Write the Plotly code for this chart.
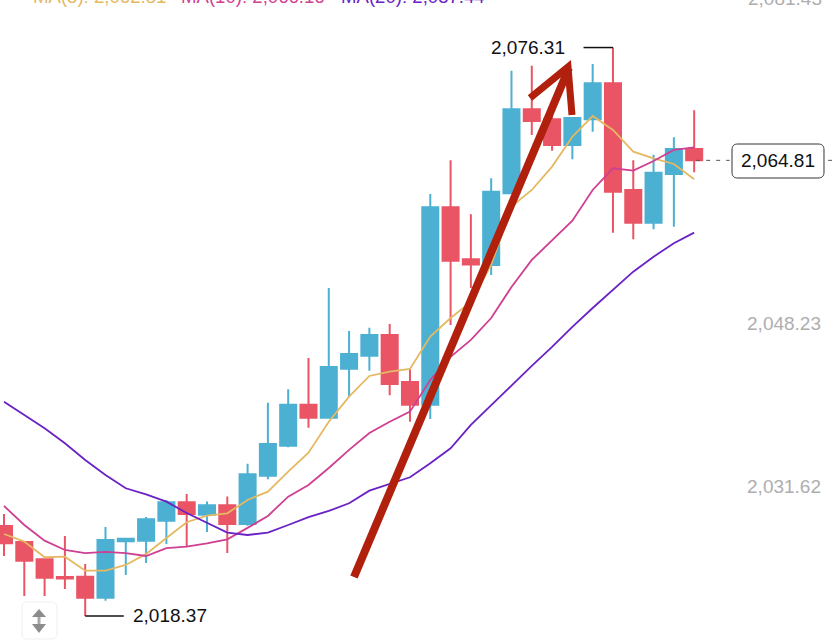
import plotly.graph_objects as go

W, H = 832, 642

# Candle values (price), index 0..34
opens = [2027.54, 2025.91, 2024.14, 2022.34, 2022.37, 2020.23, 2025.98, 2026.04, 2028.08, 2029.95,
         2028.69, 2029.65, 2027.74, 2032.67, 2035.72, 2039.90, 2038.58, 2043.57, 2044.90, 2047.01,
         2042.22, 2039.90, 2060.03, 2054.73, 2054.15, 2061.45, 2070.02, 2069.00, 2066.38, 2069.00,
         2072.67, 2061.79, 2058.46, 2063.42, 2065.97]
closes = [2025.77, 2024.00, 2022.27, 2022.18, 2020.23, 2026.11, 2026.24, 2028.22, 2029.95, 2028.76,
          2029.65, 2027.74, 2032.81, 2035.90, 2039.90, 2038.58, 2043.75, 2045.07, 2047.01, 2042.02,
          2039.90, 2060.03, 2054.58, 2054.18, 2061.62, 2070.02, 2068.83, 2066.38, 2069.13, 2072.67,
          2061.62, 2058.46, 2063.55, 2065.97, 2064.81]
highs = [2028.76, 2025.91, 2024.14, 2026.52, 2023.66, 2027.43, 2026.31, 2028.45, 2030.19, 2030.80,
         2030.02, 2030.53, 2033.89, 2040.11, 2041.47, 2044.67, 2051.80, 2047.42, 2047.75, 2048.13,
         2043.51, 2061.38, 2064.82, 2059.31, 2062.98, 2073.95, 2074.46, 2069.64, 2069.13, 2074.64,
         2076.31, 2064.82, 2065.39, 2067.16, 2069.92]
lows = [2024.48, 2020.40, 2020.40, 2021.12, 2018.37, 2019.92, 2022.54, 2023.76, 2025.70, 2025.43,
        2026.93, 2024.79, 2027.57, 2032.30, 2035.56, 2037.56, 2038.58, 2040.66, 2043.37, 2040.86,
        2038.17, 2038.45, 2048.03, 2051.80, 2053.13, 2061.45, 2067.40, 2065.80, 2064.92, 2067.73,
        2057.44, 2056.76, 2057.78, 2058.05, 2063.59]
ma5 = [2026.72, 2025.94, 2024.35, 2024.41, 2022.98, 2022.98, 2023.56, 2024.69, 2026.32, 2027.92,
       2028.59, 2028.83, 2030.19, 2031.04, 2033.07, 2035.01, 2038.17, 2040.72, 2042.83, 2043.27,
       2043.54, 2046.84, 2048.74, 2050.37, 2054.15, 2060.09, 2061.79, 2064.17, 2067.22, 2069.33,
       2067.91, 2065.70, 2065.02, 2064.44, 2062.88]
ma10 = [2029.58, 2027.64, 2026.04, 2025.09, 2024.76, 2024.89, 2024.76, 2024.48, 2025.27, 2025.43,
        2025.77, 2026.18, 2027.34, 2028.56, 2030.53, 2031.72, 2033.45, 2035.29, 2037.02, 2038.17,
        2039.19, 2042.42, 2044.77, 2046.50, 2048.74, 2051.90, 2054.66, 2056.69, 2058.66, 2061.79,
        2064.00, 2063.76, 2064.75, 2065.87, 2066.14]
ma20 = [2040.21, 2038.85, 2037.50, 2035.97, 2034.27, 2032.74, 2031.38, 2030.75, 2030.02, 2028.86,
        2027.85, 2026.86, 2026.62, 2026.86, 2027.64, 2028.43, 2029.07, 2029.85, 2031.14, 2031.82,
        2032.50, 2033.93, 2035.46, 2037.84, 2039.87, 2041.81, 2043.85, 2045.79, 2047.83, 2049.76,
        2051.60, 2053.46, 2054.99, 2056.36, 2057.44]
index = list(range(len(opens)))

tick_values = [2048.23, 2031.62]
tick_labels = ["2,048.23", "2,031.62"]
top_tick_label = "2,081.43"
header_labels = ["MA(5): 2,062.81", "MA(10): 2,066.16", "MA(20): 2,057.44"]
high_value, high_label, high_index = 2076.31, "2,076.31", 30
low_value, low_label, low_index = 2018.37, "2,018.37", 4
last_value, last_label = 2064.81, "2,064.81"

BLUE, RED = "#4cb0d2", "#ea5565"
C5, C10, C20 = "#e5b862", "#cf3f92", "#6a22c4"
ARROW = "#b0200c"
GREY = "#aeaeae"
FONT = "Liberation Sans"


def px(x):
    return x / W


def py(y):
    return 1 - y / H


def path(points, close=False):
    s = "M" + " L".join(f"{px(x):.5f},{py(y):.5f}" for x, y in points)
    return s + (" Z" if close else "")


def round_rect(x0, y0, x1, y1, r):
    c = r * 0.3
    seg = [
        f"M{px(x0 + r):.5f},{py(y0):.5f}", f"L{px(x1 - r):.5f},{py(y0):.5f}",
        f"C{px(x1 - c):.5f},{py(y0):.5f} {px(x1):.5f},{py(y0 + c):.5f} {px(x1):.5f},{py(y0 + r):.5f}",
        f"L{px(x1):.5f},{py(y1 - r):.5f}",
        f"C{px(x1):.5f},{py(y1 - c):.5f} {px(x1 - c):.5f},{py(y1):.5f} {px(x1 - r):.5f},{py(y1):.5f}",
        f"L{px(x0 + r):.5f},{py(y1):.5f}",
        f"C{px(x0 + c):.5f},{py(y1):.5f} {px(x0):.5f},{py(y1 - c):.5f} {px(x0):.5f},{py(y1 - r):.5f}",
        f"L{px(x0):.5f},{py(y0 + r):.5f}",
        f"C{px(x0):.5f},{py(y0 + c):.5f} {px(x0 + c):.5f},{py(y0):.5f} {px(x0 + r):.5f},{py(y0):.5f}", "Z",
    ]
    return " ".join(seg)


fig = go.Figure()
fig.add_trace(go.Candlestick(
    x=index, open=opens, high=highs, low=lows, close=closes, whiskerwidth=0,
    increasing=dict(line=dict(color=BLUE, width=2), fillcolor=BLUE),
    decreasing=dict(line=dict(color=RED, width=2), fillcolor=RED),
    showlegend=False, hoverinfo="skip",
))
for vals, col, lw in [(ma5, C5, 1.8), (ma10, C10, 1.8), (ma20, C20, 1.8)]:
    fig.add_trace(go.Scatter(x=index, y=vals, mode="lines", line=dict(color=col, width=lw),
                             showlegend=False, hoverinfo="skip"))

shapes = [
    # high / low markers and last-price dashed line
    dict(type="line", xref="x", yref="y", x0=high_index, x1=high_index - 1.45, y0=high_value, y1=high_value,
         line=dict(color="#111111", width=1.5)),
    dict(type="line", xref="x", yref="y", x0=low_index, x1=low_index + 1.9, y0=low_value, y1=low_value,
         line=dict(color="#111111", width=1.5)),
    dict(type="line", xref="x", yref="y", x0=34.1, x1=35.75, y0=last_value, y1=last_value,
         line=dict(color="#555555", width=1, dash="4px,6px")),
    dict(type="line", xref="x", yref="y", x0=40.6, x1=40.79, y0=last_value, y1=last_value,
         line=dict(color="#555555", width=1)),
    # last-price box
    dict(type="path", xref="paper", yref="paper", path=round_rect(732, 144, 824, 178, 6),
         line=dict(color="#333333", width=1), fillcolor="white"),
    # scale button
    dict(type="path", xref="paper", yref="paper", path=round_rect(22, 602, 57, 639, 6),
         line=dict(color="#efefef", width=1), fillcolor="white"),
    dict(type="path", xref="paper", yref="paper", path=path([(39, 609), (46, 617), (32, 617)], True),
         line=dict(width=0), fillcolor="#8c8c8c"),
    dict(type="path", xref="paper", yref="paper", path=path([(39, 633), (46, 624), (32, 624)], True),
         line=dict(width=0), fillcolor="#8c8c8c"),
    dict(type="path", xref="paper", yref="paper", path=path([(37.5, 617), (40.5, 617), (40.5, 624), (37.5, 624)], True),
         line=dict(width=0), fillcolor="#a8a8a8"),
    # hand-drawn red arrow
    dict(type="path", xref="paper", yref="paper", path=path([(354, 577), (569, 68)]),
         line=dict(color=ARROW, width=8)),
    dict(type="path", xref="paper", yref="paper", path=path([(530, 98), (568, 67), (572, 115)]),
         line=dict(color=ARROW, width=7)),
]

annotations = []
for label, x, col in zip(header_labels, (31, 179, 339), (C5, C10, C20)):
    annotations.append(dict(text=label, xref="paper", yref="paper", x=px(x), y=py(-3), xanchor="left", yanchor="middle",
                            showarrow=False, font=dict(family=FONT, size=18.6, color=col)))
annotations += [
    dict(text=top_tick_label, xref="paper", yref="paper", x=px(824), y=py(-2), xanchor="right", yanchor="middle",
         showarrow=False, font=dict(family=FONT, size=19, color=GREY)),
    dict(text=high_label, xref="paper", yref="y", x=px(567), y=high_value, xanchor="right", yanchor="middle",
         showarrow=False, font=dict(family=FONT, size=19, color="#111111")),
    dict(text=low_label, xref="paper", yref="y", x=px(131), y=low_value, xanchor="left", yanchor="middle",
         showarrow=False, font=dict(family=FONT, size=19, color="#111111")),
    dict(text=last_label, xref="paper", yref="paper", x=px(778), y=py(161), xanchor="center", yanchor="middle",
         showarrow=False, font=dict(family=FONT, size=19, color="#111111")),
]

fig.update_layout(
    width=W, height=H, margin=dict(l=0, r=0, t=0, b=0),
    paper_bgcolor="white", plot_bgcolor="white", boxgap=0.21, boxgroupgap=0, showlegend=False,
    shapes=shapes, annotations=annotations,
    xaxis=dict(range=[-0.197, 40.79], visible=False, rangeslider=dict(visible=False), fixedrange=True),
    yaxis=dict(range=[2015.71, 2081.156], side="right", tickvals=tick_values, ticktext=tick_labels,
               ticklabelposition="inside", ticks="", showgrid=False, zeroline=False, showline=False,
               ticklabelstandoff=8, fixedrange=True,
               tickfont=dict(family=FONT, size=19, color=GREY)),
)
fig.write_html("out.html", config=dict(displayModeBar=False),
               post_script="document.documentElement.style.overflow='hidden';document.body.style.margin='0';document.body.style.overflow='hidden';")
